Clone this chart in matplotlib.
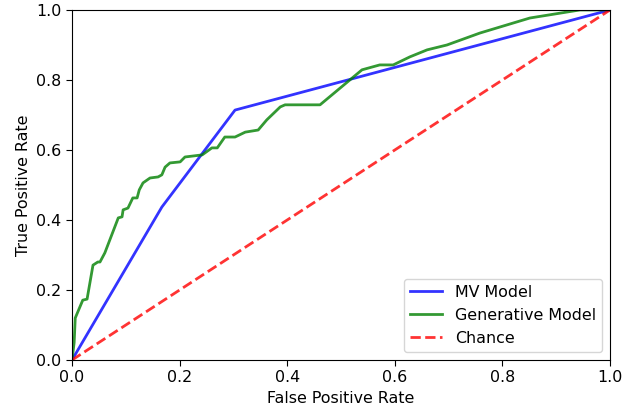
import matplotlib
matplotlib.use("Agg")
import matplotlib.pyplot as plt

# MV model ROC
mv_fpr = [0.0, 0.167, 0.303, 1.0]
mv_tpr = [0.0, 0.437, 0.714, 1.0]

# generative model ROC
gen_fpr = [0.0, 0.004, 0.006, 0.020, 0.028, 0.039, 0.048, 0.052, 0.061, 0.086,
           0.093, 0.095, 0.104, 0.113, 0.121, 0.125, 0.132, 0.145, 0.160, 0.167,
           0.173, 0.182, 0.201, 0.210, 0.242, 0.260, 0.270, 0.284, 0.303, 0.322,
           0.346, 0.362, 0.387, 0.396, 0.461, 0.539, 0.572, 0.597, 0.628, 0.660,
           0.697, 0.758, 0.851, 0.944, 1.0]
gen_tpr = [0.0, 0.05, 0.12, 0.171, 0.174, 0.271, 0.28, 0.28, 0.306, 0.406,
           0.409, 0.429, 0.434, 0.463, 0.463, 0.486, 0.506, 0.52, 0.523, 0.529,
           0.551, 0.563, 0.566, 0.58, 0.586, 0.606, 0.606, 0.637, 0.637, 0.651,
           0.657, 0.686, 0.723, 0.729, 0.729, 0.829, 0.843, 0.843, 0.866, 0.886,
           0.9, 0.934, 0.977, 1.0, 1.0]

chance = [0, 1]

plt.rcParams['font.size'] = 11.4
plt.rcParams['xtick.major.size'] = 4
plt.rcParams['ytick.major.size'] = 4

fig = plt.figure(figsize=(6.24, 4.15), dpi=100)
ax = fig.add_axes([0.1154, 0.1325, 0.8622, 0.8435])
ax.plot(mv_fpr, mv_tpr, color='b', lw=2, alpha=0.8, label='MV Model')
ax.plot(gen_fpr, gen_tpr, color='g', lw=2, alpha=0.8, label='Generative Model')
ax.plot(chance, chance, linestyle='--', lw=2, color='r', alpha=0.8, label='Chance')
ax.set_xlim(0, 1)
ax.set_ylim(0, 1)
ax.set_xlabel('False Positive Rate')
ax.set_ylabel('True Positive Rate')
ax.legend(loc='lower right')
fig.savefig('out.png', dpi=100)
